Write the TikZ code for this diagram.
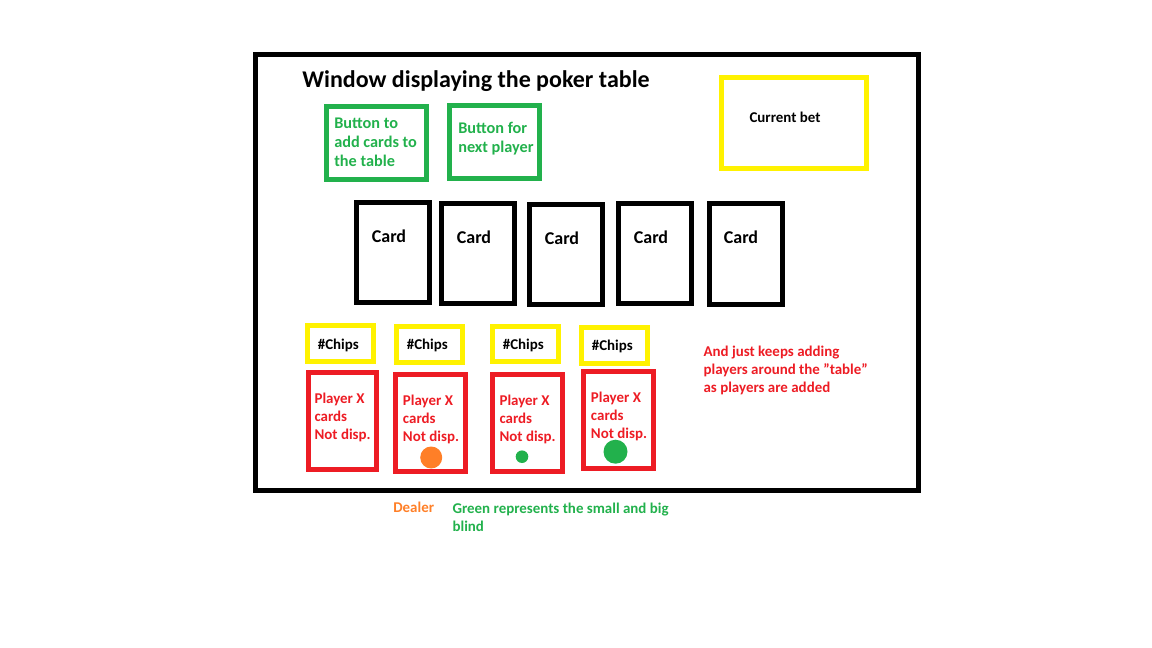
\documentclass[tikz,border=0pt]{standalone}
\usepackage{fontspec}
\setmainfont{Carlito}
\usetikzlibrary{positioning}
\definecolor{paintyellow}{HTML}{FFF200}
\definecolor{paintgreen}{HTML}{22B14C}
\definecolor{paintred}{HTML}{ED1C24}
\definecolor{paintorange}{HTML}{FF7F27}

\begin{document}
\begin{tikzpicture}[
      x=0.75pt,y=-0.75pt,
      box/.style 2 args={draw,line width=3.75pt,inner sep=0pt,
          minimum width=#1*0.75pt,minimum height=#2*0.75pt},
      txt/.style={inner sep=0pt,font=\bfseries\fontsize{11.2}{13.5}\selectfont},
      btntxt/.style={inner sep=0pt,anchor=west,align=left,text=paintgreen,
          font=\bfseries\fontsize{12.2}{14.25}\selectfont},
      playertxt/.style={txt,anchor=west,align=left,text=paintred},
      cardtxt/.style={inner sep=0pt,font=\bfseries\fontsize{13.5}{16}\selectfont},
      dot/.style={circle,inner sep=0pt,minimum size=#1*0.75pt}
      ]
      \useasboundingbox (0,0) rectangle (1152,648);

      % window frame and title
      \node[box={662.7}{435.8},line width=4.1pt] (window) at (586.9,272.4) {};
      \node[inner sep=0pt,font=\bfseries\fontsize{18}{21}\selectfont] (title) at (476,81) {Window displaying the poker table};

      % buttons and current bet
      \node[box={100}{73},draw=paintgreen] (btn_add) at (376.5,143) {};
      \node[btntxt] (btn_add_txt) at (334,142) {Button to\\add cards to\\the table};
      \node[box={90.5}{73},draw=paintgreen] (btn_next) at (494.7,142) {};
      \node[btntxt] (btn_next_txt) at (458,138.5) {Button for\\next player};
      \node[box={144.7}{90.7},draw=paintyellow] (bet) at (794,123) {};
      \node[txt] (bet_txt) at (785,117) {Current bet};

      % table cards
      \node[box={73}{100}] (card_1) at (393,252.5) {};
      \node[box={73}{100}] (card_2) at (478,253.5) {};
      \node[box={73}{100}] (card_3) at (566,254.5) {};
      \node[box={73}{100}] (card_4) at (655,253.5) {};
      \node[box={73.3}{100.7}] (card_5) at (746,254) {};
      \node[cardtxt] (card_1_txt) at (389,236) {Card};
      \node[cardtxt] (card_2_txt) at (474,237) {Card};
      \node[cardtxt] (card_3_txt) at (562,238) {Card};
      \node[cardtxt] (card_4_txt) at (651,237) {Card};
      \node[cardtxt] (card_5_txt) at (741,237) {Card};

      % chips
      \node[box={66}{35.7},draw=paintyellow] (chips_1) at (340.5,343.7) {};
      \node[box={65.7}{35.7},draw=paintyellow] (chips_2) at (429.3,344.7) {};
      \node[box={65.7}{35},draw=paintyellow] (chips_3) at (525.3,344.3) {};
      \node[box={66.3}{36.3},draw=paintyellow] (chips_4) at (614.3,345.7) {};
      \node[txt] (chips_1_txt) at (338.3,345) {\#Chips};
      \node[txt] (chips_2_txt) at (427.3,345.7) {\#Chips};
      \node[txt] (chips_3_txt) at (523.3,345.7) {\#Chips};
      \node[txt] (chips_4_txt) at (612.3,346.7) {\#Chips};

      % players
      \node[box={68.3}{96.7},draw=paintred] (player_1) at (342.7,420.8) {};
      \node[box={70.2}{97.3},draw=paintred] (player_2) at (430.3,422.8) {};
      \node[box={70.5}{97.3},draw=paintred] (player_3) at (527.5,422.8) {};
      \node[box={70.5}{97},draw=paintred] (player_4) at (618.5,420) {};
      \node[playertxt] (player_1_txt) at (314.3,417.8) {Player X\\cards\\Not disp.};
      \node[playertxt] (player_2_txt) at (402.7,419.5) {Player X\\cards\\Not disp.};
      \node[playertxt] (player_3_txt) at (499.3,419.5) {Player X\\cards\\Not disp.};
      \node[playertxt] (player_4_txt) at (590.7,416.2) {Player X\\cards\\Not disp.};

      % dealer and blinds
      \node[dot=22,fill=paintorange] (dealer_dot) at (431.2,457.5) {};
      \node[dot=12.6,fill=paintgreen] (small_blind) at (522,456.7) {};
      \node[dot=24,fill=paintgreen] (big_blind) at (615.5,451.7) {};

      % notes
      \node[playertxt] (more_players) at (703.3,370.4) {And just keeps adding\\players around the \char34 table\char34\\as players are added};
      \node[txt,text=paintorange] (dealer_note) at (413.7,507.7) {Dealer};
      \node[txt,anchor=west,align=left,text=paintgreen] (blind_note) at (452.3,517) {Green represents the small and big\\blind};
    \end{tikzpicture}
\end{document}
